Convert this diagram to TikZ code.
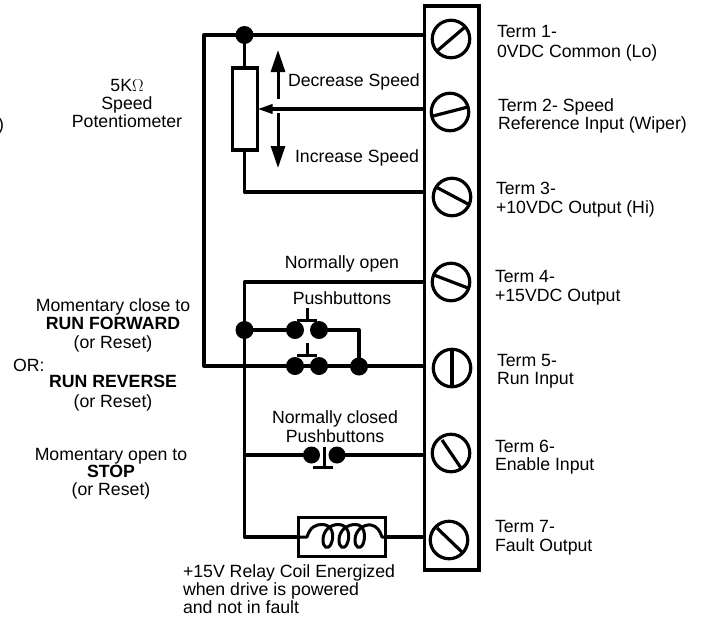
\documentclass[tikz,border=0pt]{standalone}
\usepackage{fontspec}
\setmainfont{Liberation Sans}
\usetikzlibrary{arrows.meta}
\newcommand{\lf}[1]{\fontsize{17.7}{#1}\selectfont}
\tikzset{
  wire/.style={line width=3.3pt,line cap=round,line join=round},
  screw/.style={circle,draw,line width=3.2pt,minimum size=37.5pt,inner sep=0pt,outer sep=0pt},
  slot/.style={line width=3.2pt},
  dot/.style={circle,fill=black,inner sep=0pt,outer sep=0pt,minimum size=18pt},
  txt/.style={inner sep=0pt,outer sep=0pt,align=left,anchor=base west,text=black},
  ctxt/.style={inner sep=0pt,outer sep=0pt,align=center,anchor=base,text=black},
  boxy/.style={rectangle,draw,line width=3.3pt,inner sep=0pt,outer sep=0pt,fill=white},
  bigtip/.style={-{Triangle[length=22pt,width=14pt]}},
}
\begin{document}
\begin{tikzpicture}[x=1pt,y=-1pt]
\path[use as bounding box,fill=white] (0,0) rectangle (703,619);
% terminal strip
\node[boxy,fill=none,minimum width=54.5pt,minimum height=564pt] (strip) at (451.75,288) {};
% screws
\node[screw] (t1) at (451,39) {};
\node[screw] (t2) at (450,112) {};
\node[screw] (t3) at (452,197) {};
\node[screw] (t4) at (451,282) {};
\node[screw] (t5) at (452,368) {};
\node[screw] (t6) at (451,453) {};
\node[screw] (t7) at (449,540) {};
\draw[slot] (437,51) -- (465,27);
\draw[slot] (433,116) -- (468,107);
\draw[slot] (436,187) -- (468,204);
\draw[slot] (434,275) -- (468,288);
\draw[slot] (452,349) -- (452,387);
\draw[slot] (442,440) -- (461,468);
\draw[slot] (437,528) -- (463,553);
% strip attachment points
\coordinate (p1) at (424.5,35);
\coordinate (p2) at (424.5,109);
\coordinate (p3) at (424.5,192);
\coordinate (p4) at (424.5,282);
\coordinate (p5) at (424.5,366);
\coordinate (p6) at (424.5,455);
\coordinate (p7) at (424.5,537);
% potentiometer
\node[dot] (j1) at (244.5,35) {};
\node[boxy,minimum width=25pt,minimum height=82pt] (pot) at (245,109) {};
\coordinate (lt) at (204,35);
\coordinate (lb) at (204,366);
\draw[wire] (p1) -- (lt) -- (lb) -- (p5);
\draw[wire] (j1) -- (j1 |- pot.north);
\draw[wire] (j1 |- pot.south) |- (p3);
\draw[line width=3.3pt,-{Triangle[length=15pt,width=9pt]}] (p2) -- (pot.east |- p2);
\coordinate (uA) at (278,99);
\coordinate (uB) at (278,50);
\coordinate (dA) at (278,113);
\coordinate (dB) at (278,168);
\draw[line width=3pt,bigtip] (uA) -- (uB);
\draw[line width=3pt,bigtip] (dA) -- (dB);
% pushbuttons
\coordinate (c4) at (244.5,282);
\coordinate (c7) at (244.5,537);
\node[dot] (j2) at (244.5,330) {};
\node[dot] (a1) at (295,330) {};
\node[dot] (a2) at (319,330) {};
\node[dot] (b1) at (295,366) {};
\node[dot] (b2) at (319,366) {};
\node[dot] (j3) at (359,366.5) {};
\node[dot,minimum size=17pt] (n1) at (311.5,455) {};
\node[dot,minimum size=17pt] (n2) at (337,455) {};
\node[boxy,minimum width=87pt,minimum height=39pt] (relay) at (342,537) {};
\draw[wire] (p4) -- (c4) -- (c7) -- (relay.west);
\draw[wire] (relay.east) -- (p7);
\draw[wire] (j2) -- (a1);
\draw[wire] (a2) -| (j3);
\draw[wire] (c4 |- n1) -- (n1);
\draw[wire] (n2) -- (p6);
% actuators
\coordinate (s1) at (307,308);
\coordinate (s1b) at (307,320);
\coordinate (s2) at (307.5,343);
\coordinate (s2b) at (307.5,355);
\coordinate (s3) at (324,447);
\coordinate (s3b) at (324,467);
\draw[line width=3pt] (s1) -- (s1b);
\draw[line width=3pt] (297,320) -- (317,320);
\draw[line width=3pt] (s2) -- (s2b);
\draw[line width=3pt] (297,355) -- (317,355);
\draw[line width=3pt] (s3) -- (s3b);
\draw[line width=3pt] (313,467) -- (333,467);
% coil
\draw[line width=3pt,line join=round] (298,537) -- (307,537)
  .. controls (310,527) and (316,524) .. (323,524.5)
  .. controls (332,525) and (335,535) .. (331,544)
  .. controls (328,550) and (323,548) .. (323,540)
  .. controls (323,530) and (331,524) .. (339,524.5)
  .. controls (348,525) and (351,535) .. (347,544)
  .. controls (344,550) and (339,548) .. (339,540)
  .. controls (339,530) and (348,524) .. (356,524.5)
  .. controls (365,525) and (366,537) .. (363,544)
  .. controls (360,550) and (355,548) .. (355,540)
  .. controls (355,530) and (364,524) .. (371,525)
  .. controls (377,526) and (380,531) .. (382,537) -- (386,537);
% texts
\node[txt,font=\lf{20}] (l1) at (497,57) {Term 1-\\0VDC Common (Lo)};
\node[txt,font=\lf{17.5}] (l2) at (498,129) {Term 2- Speed\\Reference Input (Wiper)};
\node[txt,font=\lf{19}] (l3) at (496,213) {Term 3-\\+10VDC Output (Hi)};
\node[txt,font=\lf{18.3}] (l4) at (495,301) {Term 4-\\+15VDC Output};
\node[txt,font=\lf{18}] (l5) at (497,384) {Term 5-\\Run Input};
\node[txt,font=\lf{18}] (l6) at (495,470) {Term 6-\\Enable Input};
\node[txt,font=\lf{19}] (l7) at (495,551) {Term 7-\\Fault Output};
\node[ctxt,font=\lf{18}] (pl) at (127,127) {5K$\Omega$\\Speed\\Potentiometer};
\node[txt,font=\lf{18}] (dec) at (288,86) {Decrease Speed};
\node[txt,font=\lf{18}] (inc) at (295,162) {Increase Speed};
\node[ctxt,font=\lf{18}] (no) at (342,268) {Normally open};
\node[ctxt,font=\lf{18}] (pb) at (342,304) {Pushbuttons};
\node[ctxt,font=\lf{19}] (nc) at (335,442) {Normally closed\\Pushbuttons};
\node[ctxt,font=\lf{18.5}] (mc) at (113,348) {Momentary close to\\\textbf{RUN FORWARD}\\(or Reset)};
\node[txt,font=\lf{18}] (or) at (13,371) {OR:};
\node[ctxt,font=\lf{20}] (rr) at (113,407) {\textbf{RUN REVERSE}\\(or Reset)};
\node[ctxt,font=\lf{17.5}] (mo) at (111,495) {Momentary open to\\\textbf{STOP}\\(or Reset)};
\node[txt,font=\lf{18}] (rc) at (183,613) {+15V Relay Coil Energized\\when drive is powered\\and not in fault};
\node[inner sep=0pt,outer sep=0pt,anchor=base east,font=\lf{18}] (frag) at (4,130) {)};
\end{tikzpicture}
\end{document}
